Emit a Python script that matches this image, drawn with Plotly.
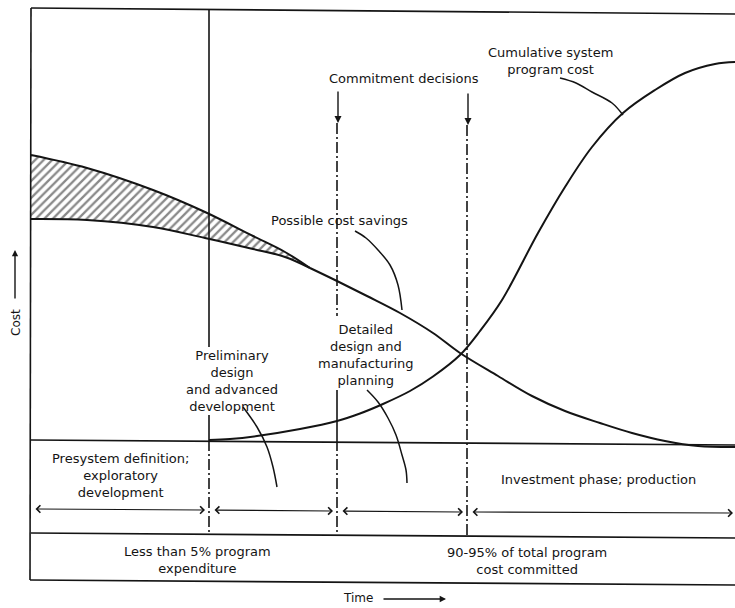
import plotly.graph_objects as go

# ---- data (pixel-like time / cost coordinates) ----
band_time = [31, 87, 153, 205, 253, 285, 310]
band_upper = [155, 168, 190, 212, 236, 252, 268]
band_lower = [219, 220, 227, 238, 249, 257, 268]

design_time = [310, 337, 367, 400, 433, 460, 498, 532, 565, 600, 632, 665, 698, 735]
design_cost = [268, 281, 296, 313, 333, 353, 376, 396, 411, 423, 433, 441, 446, 447]

cum_time = [209, 230, 257, 300, 337, 360, 383, 410, 433, 460, 480, 502, 538, 565, 592, 623, 655, 685, 715, 735]
cum_cost = [440, 439, 436, 429, 421, 413.5, 404, 391, 376.5, 355, 331, 300, 233, 187, 147, 113, 90, 73, 64, 62]

lead_cum_t = [560, 576, 592, 612, 623]
lead_cum_c = [78, 83, 92, 103, 115]
lead_sav_t = [355, 366, 378, 390, 398, 402]
lead_sav_c = [231, 238, 250, 265, 285, 310]
lead_det_t = [367, 378, 388, 396, 402, 406, 407]
lead_det_c = [390, 402, 418, 435, 455, 470, 483]
lead_pre_t = [243, 257, 267, 273, 277]
lead_pre_c = [407, 427, 447, 467, 487]

INK = "#141414"
FONT = "DejaVu Sans"

fig = go.Figure()

# hatched band (possible cost savings)
fig.add_trace(go.Scatter(x=band_time, y=band_lower, mode="lines",
                         line=dict(color=INK, width=2, shape="spline"), hoverinfo="skip"))
fig.add_trace(go.Scatter(x=band_time, y=band_upper, mode="lines", fill="tonexty",
                         fillcolor="white",
                         fillpattern=dict(shape="/", fgcolor=INK, bgcolor="white",
                                          size=6, solidity=0.38),
                         line=dict(color=INK, width=2, shape="spline"), hoverinfo="skip"))
# design cost curve
fig.add_trace(go.Scatter(x=design_time, y=design_cost, mode="lines",
                         line=dict(color=INK, width=2, shape="spline"), hoverinfo="skip"))
# cumulative system program cost
fig.add_trace(go.Scatter(x=cum_time, y=cum_cost, mode="lines",
                         line=dict(color=INK, width=2, shape="spline"), hoverinfo="skip"))
# leader lines
for lt, lc in [(lead_cum_t, lead_cum_c), (lead_sav_t, lead_sav_c),
               (lead_det_t, lead_det_c), (lead_pre_t, lead_pre_c)]:
    fig.add_trace(go.Scatter(x=lt, y=lc, mode="lines",
                             line=dict(color=INK, width=1.5, shape="spline"), hoverinfo="skip"))

# ---- frame ----
shapes = []
def seg(x0, y0, x1, y1, w=1.6, dash=None):
    d = dict(type="line", xref="x", yref="y", x0=x0, y0=y0, x1=x1, y1=y1,
             line=dict(color=INK, width=w))
    if dash:
        d["line"]["dash"] = dash
    shapes.append(d)

DD = "11px,3px,2px,3px"
seg(31, 8, 735, 14)
seg(31, 440, 735, 445)
seg(31, 533, 735, 538)
seg(30, 580, 735, 585)
seg(31, 8, 30, 580)
seg(209, 9, 209, 347)
seg(209, 415, 209, 440)
seg(209, 440, 209, 533, dash=DD)
seg(337, 123, 337, 316, dash=DD)
seg(337, 390, 337, 440)
seg(337, 440, 337, 535, dash=DD)
seg(467, 125, 467, 538, dash=DD)

# ---- annotations ----
ann = []
def txt(x, y, s, size=13, angle=0):
    ann.append(dict(x=x, y=y, xref="x", yref="y", text=s, showarrow=False,
                    font=dict(family=FONT, size=size, color=INK),
                    xanchor="center", yanchor="middle", align="center",
                    textangle=angle))

def arr(x0, y0, x1, y1, both=False, head=2, size=1.0, w=1.2):
    ann.append(dict(x=x1, y=y1, ax=x0, ay=y0, xref="x", yref="y", axref="x", ayref="y",
                    text="", showarrow=True, arrowhead=head, startarrowhead=head,
                    arrowsize=size, startarrowsize=size, arrowwidth=w,
                    arrowcolor=INK, arrowside="end+start" if both else "end",
                    standoff=0, startstandoff=0))

txt(550, 61, "Cumulative system<br>program cost")
txt(404, 78, "Commitment decisions")
txt(339, 220, "Possible cost savings")
txt(366, 355, "Detailed<br>design and<br>manufacturing<br>planning")
txt(232, 381, "Preliminary<br>design<br>and advanced<br>development")
txt(120, 475, "Presystem definition;<br>exploratory<br>development")
txt(598, 479, "Investment phase; production")
txt(197, 560, "Less than 5% program<br>expenditure")
txt(527, 561, "90-95% of total program<br>cost committed")
txt(358, 598, "Time", size=12)
txt(16, 323, "Cost", size=12, angle=-90)

arr(338, 90, 338, 123, head=2, size=1.0, w=1.4)
arr(468, 92, 468, 125, head=2, size=1.0, w=1.4)
arr(382, 599, 446, 599, head=2, size=0.9, w=1.4)
arr(15, 300, 15, 250, head=2, size=0.9, w=1.4)

arr(34, 509, 205, 510, both=True, head=4, size=1.2, w=1.2)
arr(213, 510, 333, 511, both=True, head=4, size=1.2, w=1.2)
arr(341, 511, 463, 512, both=True, head=4, size=1.2, w=1.2)
arr(471, 512, 733, 513, both=True, head=4, size=1.2, w=1.2)

fig.update_layout(
    width=735, height=608,
    margin=dict(l=0, r=0, t=0, b=0),
    paper_bgcolor="white", plot_bgcolor="white",
    showlegend=False,
    xaxis=dict(range=[0, 735], visible=False, fixedrange=True),
    yaxis=dict(range=[608, 0], visible=False, fixedrange=True),
    shapes=shapes, annotations=ann,
)

fig.write_html("out.html", config={"displayModeBar": False},
               post_script="document.body.style.margin='0';document.body.style.overflow='hidden';")
